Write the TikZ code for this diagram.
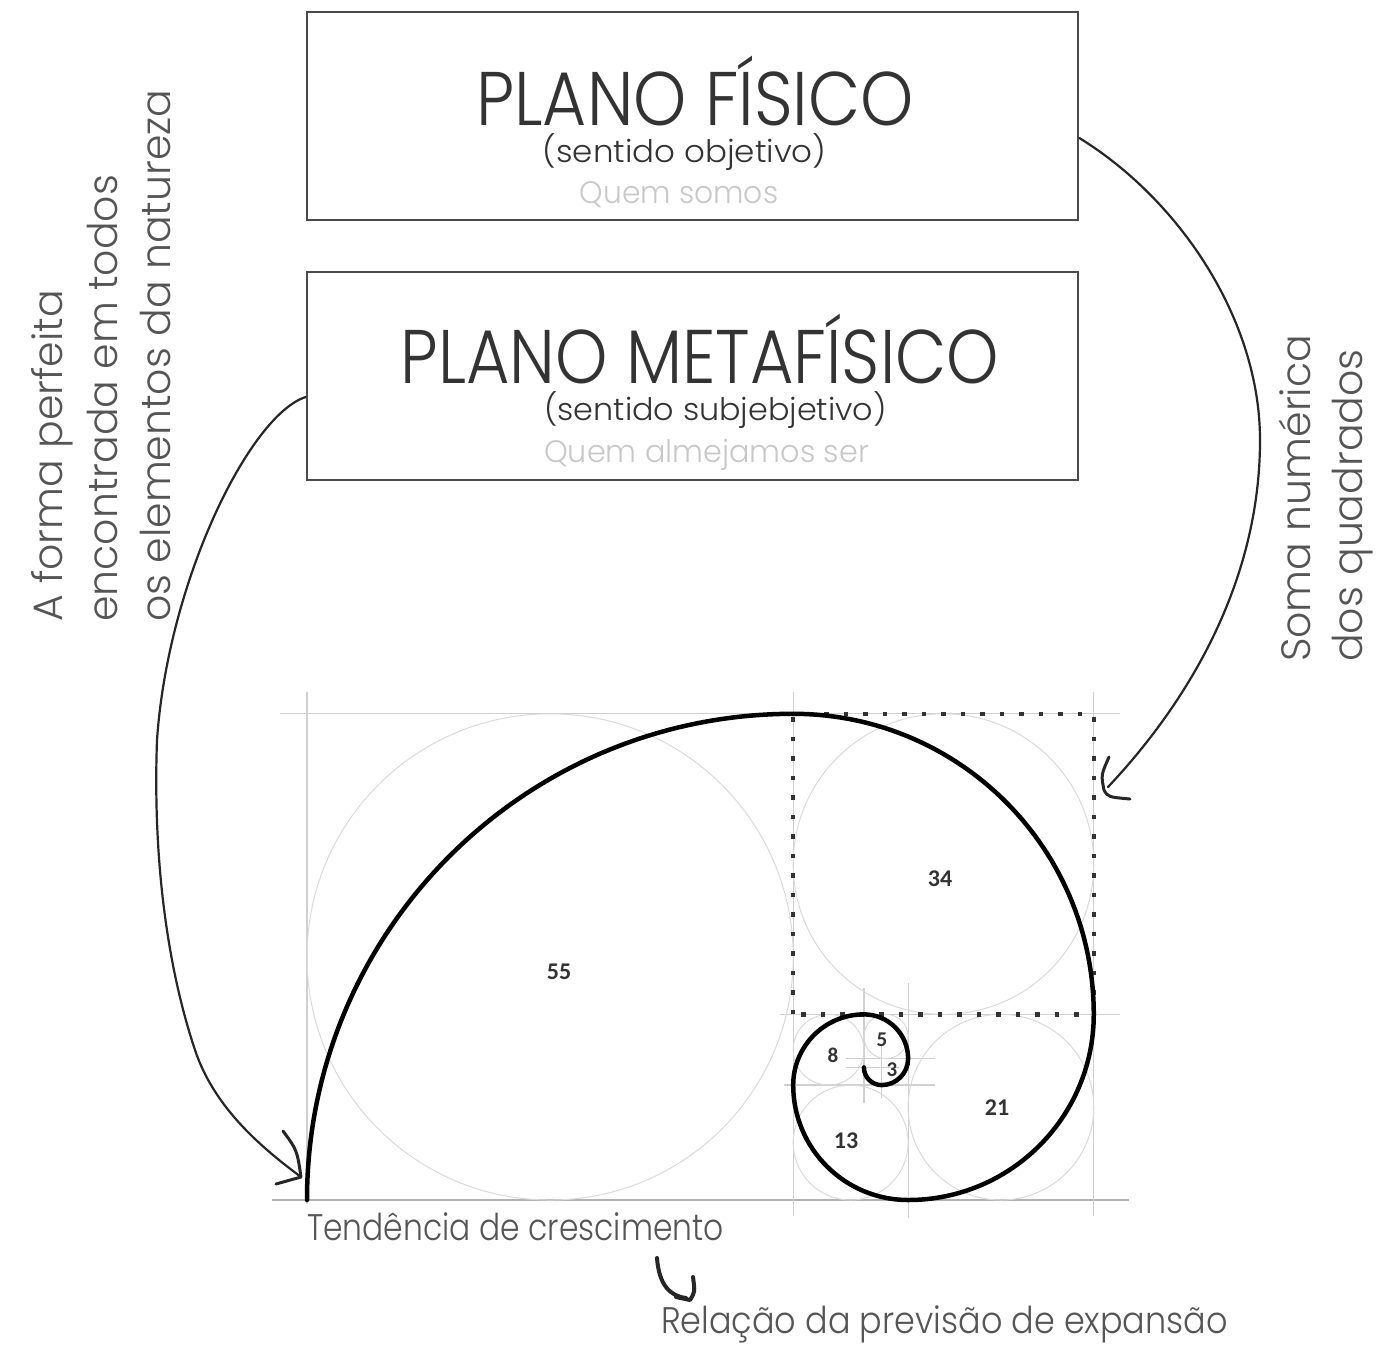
\documentclass[tikz,border=0pt]{standalone}
\usepackage{graphicx}
\usepackage{fontspec}
\IfFontExistsTF{Poppins Light}{\newfontfamily\pl{Poppins Light}}{\newfontfamily\pl{Poppins}}
\newfontfamily\cb{Carlito}
\newcommand\sqz[2]{\scalebox{#1}[1]{#2}}
\definecolor{txt}{HTML}{333333}
\definecolor{side}{HTML}{555555}
\definecolor{pale}{HTML}{C8C8C8}
\definecolor{boxc}{HTML}{4A4A4A}
\definecolor{grid}{HTML}{D0D0D0}
\definecolor{circ}{HTML}{DADADA}
\tikzset{
  boxst/.style={draw=boxc, line width=2.6pt, minimum width=771pt, minimum height=208pt, inner sep=0pt},
  title/.style={anchor=base, text=txt, font=\pl\fontsize{76}{80}\selectfont, inner sep=0pt},
  sub/.style={anchor=base, text=txt, font=\pl\fontsize{31}{33}\selectfont, inner sep=0pt},
  who/.style={anchor=base, text=pale, font=\pl\fontsize{31}{33}\selectfont, inner sep=0pt},
  sidetxt/.style={anchor=base west, rotate=90, text=side, font=\pl\fontsize{41}{44}\selectfont, inner sep=0pt},
  bottxt/.style={anchor=base west, text=side, font=\pl\fontsize{37}{40}\selectfont, inner sep=0pt},
  num/.style={text=txt, font=\cb\bfseries\fontsize{24}{26}\selectfont, inner sep=0pt},
  smallnum/.style={text=txt, font=\cb\bfseries\fontsize{21}{23}\selectfont, inner sep=0pt},
  gridline/.style={draw=grid, line width=1.2pt},
  circline/.style={draw=circ, line width=1pt},
  spiral/.style={draw=black, line width=4.5pt, line cap=round},
  conn/.style={draw=black!85, line width=2.2pt, line cap=round},
  head/.style={draw=black!85, line width=3pt, line cap=round, line join=round},
  dots/.style={draw=black!80, line width=4.5pt, dash pattern=on 4.5pt off 15pt},
}
\begin{document}
\begin{tikzpicture}[x=1pt,y=1pt]
\useasboundingbox (0,0) rectangle (1376,-1345);
% boxes
\node[boxst] (b1) at (692.5,-116) {};
\node[boxst] (b2) at (692.5,-376) {};
\node[title] (t1) at (695,-125) {\sqz{0.89}{PLANO FÍSICO}};
\node[sub] (s1) at (684.5,-162) {\sqz{1.048}{(sentido objetivo)}};
\node[who] (q1) at (679,-203) {\sqz{0.96}{Quem somos}};
\node[title] (t2) at (700,-383) {\sqz{0.876}{PLANO METAFÍSICO}};
\node[sub] (s2) at (715.5,-420) {\sqz{1.027}{(sentido subjebjetivo)}};
\node[who] (q2) at (706.5,-462) {\sqz{0.976}{Quem almejamos ser}};
% side texts
\node[sidetxt] (l1) at (62,-622) {A forma perfeita};
\node[sidetxt] (l2) at (117,-622) {encontrada em todos};
\node[sidetxt] (l3) at (170,-622) {os elementos da natureza};
\node[sidetxt] (r1) at (1310,-662) {Soma numérica};
\node[sidetxt] (r2) at (1362,-662) {dos quadrados};
% golden construction
\begin{scope}[shift={(307,-1200)}, x=8.84pt, y=8.84pt]
  \def\U{8.84pt}
  \draw[gridline] (-3,55) -- (92,55);
  \draw[gridline, draw=black!30, line width=1.8pt] (-4,0) -- (93,0);
  \draw[gridline] (0,-0.5) -- (0,57.5);
  \draw[gridline] (55,-1.8) -- (55,57.5);
  \draw[gridline] (89,-1.8) -- (89,57.5);
  \draw[gridline] (53.5,21) -- (92,21);
  \draw[gridline] (54,13) -- (71,13);
  \draw[gridline] (68,-2) -- (68,24.5);
  \draw[gridline] (63,11) -- (63,24);
  \draw[gridline] (65,11.5) -- (65,17.5);
  \draw[gridline] (61,16) -- (71,16);
  \draw[gridline] (61,15) -- (67,15);
  \draw[circline] (27.5,27.5) circle[radius=27.5*\U];
  \draw[circline] (72,38) circle[radius=17*\U];
  \draw[circline] (78.5,10.5) circle[radius=10.5*\U];
  \draw[circline] (61.5,6.5) circle[radius=6.5*\U];
  \draw[circline] (59,17) circle[radius=4*\U];
  \draw[circline] (65.5,18.5) circle[radius=2.5*\U];
  \draw[dots] (55,21) rectangle (89,55);
  \draw[spiral] (0,0) arc[start angle=180, end angle=90, radius=55*\U]
     arc[start angle=90, end angle=0, radius=34*\U]
     arc[start angle=0, end angle=-90, radius=21*\U]
     arc[start angle=-90, end angle=-180, radius=13*\U]
     arc[start angle=180, end angle=90, radius=8*\U]
     arc[start angle=90, end angle=0, radius=5*\U]
     arc[start angle=0, end angle=-90, radius=3*\U]
     arc[start angle=-90, end angle=-180, radius=2*\U];
\end{scope}
% numbers
\node[num] (n55) at (559,-972) {55};
\node[num] (n34) at (940,-879) {34};
\node[num] (n21) at (997,-1108) {21};
\node[num] (n13) at (846,-1141) {13};
\node[smallnum] (n8) at (833,-1055) {8};
\node[smallnum] (n5) at (882,-1040) {5};
\node[smallnum] (n3) at (892,-1070) {3};
% bottom texts
\node[bottxt] (bt1) at (307,-1240) {\sqz{0.847}{Tendência de crescimento}};
\node[bottxt] (bt2) at (661,-1333) {\sqz{0.904}{Relação da previsão de expansão}};
% connectors
\coordinate (rtip) at (1104,-790);
\coordinate (ltip) at (301,-1177);
\coordinate (btip) at (690,-1300);
\coordinate (bstart) at (657,-1258);
\draw[conn] ([yshift=-22pt]b1.east) .. controls (1180,-200) and (1260,-320) .. (1260,-440)
   .. controls (1260,-580) and (1190,-700) .. (1108,-787);
\draw[head] (1109,-757) .. controls (1101,-775) .. (rtip) .. controls (1108,-797) .. (1130,-799);
\draw[conn] ([yshift=-21pt]b2.west) .. controls (250,-415) and (168,-580) .. (157,-740)
   .. controls (153,-850) and (165,-960) .. (195,-1050)
   .. controls (215,-1110) and (265,-1150) .. (ltip);
\draw[head] (283,-1131) .. controls (297,-1150) .. (ltip) -- (276,-1184);
\draw[head, line width=4pt] (bstart) .. controls (659,-1285) and (670,-1296) .. (686,-1298);
\draw[head, line width=4pt] (693,-1277) .. controls (695,-1292) .. (btip) -- (676,-1297);
\end{tikzpicture}
\end{document}
